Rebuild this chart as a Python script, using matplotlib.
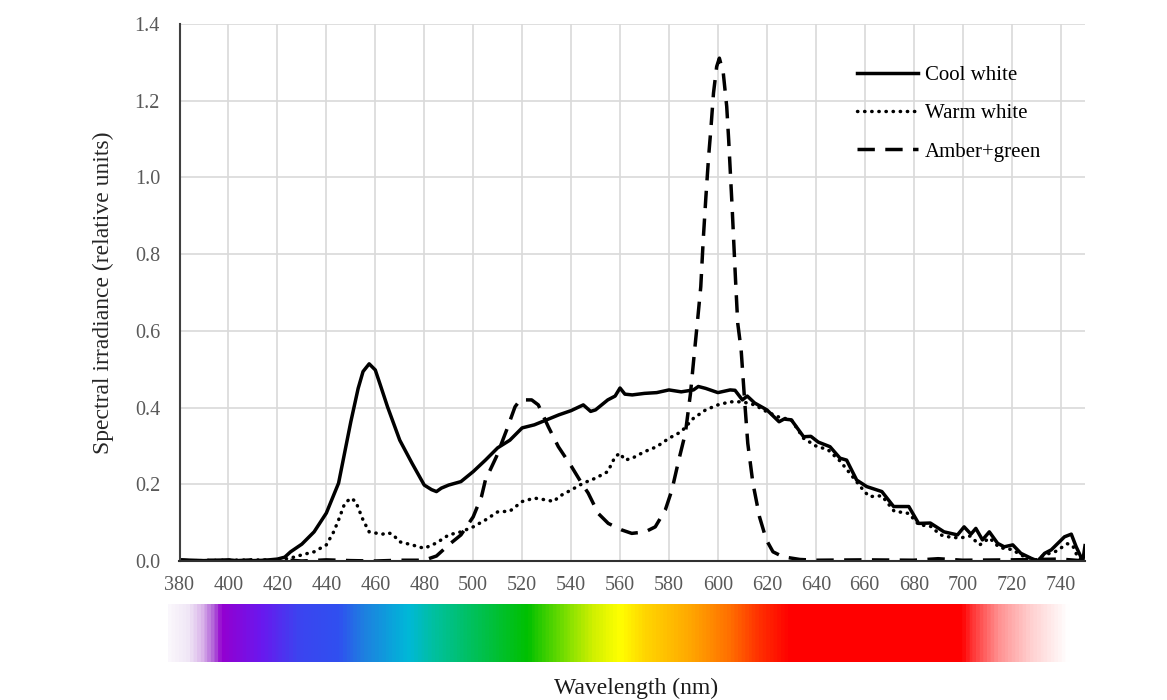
import matplotlib
matplotlib.use("Agg")
import matplotlib.pyplot as plt
import numpy as np
from matplotlib.colors import LinearSegmentedColormap

# ---------------- data ----------------
cool_nm = [380, 385, 390, 395, 400, 405, 410, 415, 420, 423, 425.4, 430, 435, 440, 445, 450, 453, 455,
           457.5, 460, 462, 465, 470, 475, 480, 483, 485, 487, 490, 495, 500, 505, 510, 515, 520, 525,
           530, 535, 540, 545, 548, 550, 555, 558, 560, 562, 565, 570, 575, 580, 585, 590, 592, 595,
           600, 605, 607, 610, 612, 615, 620, 625, 627, 630, 635, 638, 641, 645.8, 649.9, 652.6, 656.7,
           660.8, 667, 671.8, 678, 682, 686.8, 692.4, 697.9, 700.6, 703.4, 705.4, 708.1, 710.9, 714.3,
           717, 720.5, 723.8, 728, 730.7, 733.5, 736.2, 738.9, 741.6, 744.4, 746.4, 749.1, 750]
cool_val = [0.003, 0.002, 0.001, 0.002, 0.003, 0.0, 0.001, 0.002, 0.005, 0.01, 0.024, 0.044, 0.076, 0.125,
            0.203, 0.363, 0.45, 0.494, 0.514, 0.498, 0.46, 0.402, 0.315, 0.255, 0.198, 0.186, 0.181, 0.19,
            0.198, 0.207, 0.233, 0.263, 0.295, 0.315, 0.347, 0.355, 0.368, 0.381, 0.392, 0.407, 0.39,
            0.394, 0.42, 0.43, 0.451, 0.435, 0.433, 0.437, 0.439, 0.446, 0.441, 0.446, 0.455, 0.45,
            0.439, 0.446, 0.445, 0.42, 0.43, 0.412, 0.394, 0.363, 0.37, 0.368, 0.324, 0.325, 0.31, 0.298,
            0.268, 0.263, 0.211, 0.194, 0.181, 0.142, 0.142, 0.098, 0.099, 0.076, 0.068, 0.089, 0.07,
            0.085, 0.055, 0.076, 0.046, 0.037, 0.042, 0.02, 0.007, 0.0, 0.02, 0.029, 0.046, 0.063, 0.07,
            0.037, 0.0, 0.04]

warm_nm = [380, 400, 420, 425, 430, 435, 440, 443, 445, 447.5, 450, 452, 455, 457.5, 460, 463, 465, 467,
           470, 475, 480, 485, 490, 495, 500, 505, 510, 515, 520, 525, 530, 533, 535, 540, 545, 550, 555,
           558, 560, 562, 565, 570, 575, 580, 585, 590, 595, 600, 605, 610, 615, 620, 625, 630, 635, 640,
           645, 650, 655, 660, 662, 667, 672, 678, 682, 687, 691, 695, 699, 703, 707, 711, 715, 720, 725,
           730, 733.5, 738, 742.8, 745, 747, 750]
warm_val = [0.0, 0.002, 0.003, 0.007, 0.016, 0.024, 0.042, 0.076, 0.107, 0.15, 0.164, 0.155, 0.107, 0.076,
            0.073, 0.07, 0.074, 0.07, 0.05, 0.042, 0.033, 0.047, 0.068, 0.076, 0.089, 0.107, 0.128, 0.13,
            0.155, 0.164, 0.159, 0.155, 0.168, 0.185, 0.203, 0.216, 0.233, 0.272, 0.281, 0.263, 0.268,
            0.285, 0.298, 0.32, 0.337, 0.372, 0.394, 0.407, 0.415, 0.415, 0.407, 0.389, 0.375, 0.368,
            0.32, 0.3, 0.29, 0.26, 0.22, 0.18, 0.168, 0.17, 0.13, 0.124, 0.095, 0.09, 0.068, 0.062, 0.06,
            0.065, 0.042, 0.06, 0.035, 0.03, 0.012, 0.003, 0.016, 0.025, 0.045, 0.04, 0.01, 0.0]

amber_nm = [380, 385, 390, 400, 410, 420, 425, 430, 440, 450, 460, 470, 480, 485, 490, 495, 500, 503.4,
            505, 509.5, 513.7, 517.1, 519.2, 523.9, 526.6, 530.7, 534.8, 540.2, 544.3, 547, 551.1, 555.2,
            560.7, 564.8, 570.3, 574.4, 578.5, 581.2, 584, 586.7, 588.8, 590.1, 591.7, 593, 594, 595.1,
            596.2, 597.1, 598.2, 599.5, 600.6, 602.2, 603.6, 604.4, 605.1, 605.8, 606.5, 607.2, 608.1,
            609.5, 610.9, 612.2, 614.3, 617, 619.8, 622.5, 626.6, 633.5, 640, 660, 680, 690, 700, 720,
            740, 750]
amber_val = [0.003, 0.0, 0.002, 0.0, 0.003, 0.0, 0.002, 0.0, 0.003, 0.001, 0.0, 0.002, 0.002, 0.013, 0.042,
             0.068, 0.115, 0.168, 0.211, 0.272, 0.342, 0.402, 0.42, 0.42, 0.407, 0.35, 0.298, 0.246,
             0.203, 0.177, 0.124, 0.098, 0.081, 0.072, 0.076, 0.089, 0.133, 0.185, 0.263, 0.333, 0.437,
             0.524, 0.628, 0.715, 0.837, 0.95, 1.054, 1.124, 1.22, 1.289, 1.311, 1.272, 1.185, 1.098,
             1.011, 0.924, 0.828, 0.733, 0.62, 0.55, 0.42, 0.307, 0.203, 0.115, 0.055, 0.024, 0.011,
             0.004, 0.002, 0.003, 0.002, 0.006, 0.002, 0.003, 0.005, 0.0]

series_labels = ["Cool white", "Warm white", "Amber+green"]
x_ticks = list(range(380, 741, 20))
y_ticks = [0.0, 0.2, 0.4, 0.6, 0.8, 1.0, 1.2, 1.4]

# spectrum colour bar stops (nm, colour)
spec_nm = [375.3, 383, 388.4, 393.4, 396.6, 413, 428.3, 444.7, 455.4, 473.5, 484.1, 499.3, 522.7,
           539.2, 549.8, 560.9, 570.4, 589.7, 606.1, 618.4, 630.7, 701.8, 706, 717, 730.5, 745.7, 749.8]
spec_col = ["#faf7fc", "#f0e6f6", "#dab4ea", "#b060d8", "#9400d0", "#6a18ee", "#3c44f0", "#3050f0",
            "#1e80e0", "#00b8d8", "#00c0a0", "#00c060", "#00c000", "#80e000", "#d0f000", "#ffff00",
            "#ffd800", "#ffa800", "#ff7000", "#ff3000", "#ff0000", "#ff0000", "#ff3030", "#ff9090",
            "#ffd0d0", "#ffffff", "#ffffff"]

# ---------------- figure ----------------
plt.rcParams['font.family'] = ['Liberation Serif', 'DejaVu Serif']
W, H = 1167, 700
fig = plt.figure(figsize=(W / 100, H / 100), dpi=100)

ax_l, ax_r, ax_t, ax_b = 179.5, 1085, 24, 561
ax = fig.add_axes([ax_l / W, 1 - ax_b / H, (ax_r - ax_l) / W, (ax_b - ax_t) / H])

lw = 2.5
ax.plot(cool_nm, cool_val, color="black", lw=lw, linestyle="-", label=series_labels[0],
        solid_joinstyle="round")
ax.plot(warm_nm, warm_val, color="black", lw=lw, linestyle=(0, (0.1, 1.95)), label=series_labels[1],
        dash_capstyle="round")
ax.plot(amber_nm, amber_val, color="black", lw=lw, linestyle=(0, (5, 3)), label=series_labels[2])

ax.set_xlim(380, 750)
ax.set_ylim(0, 1.4)
ax.set_xticks(x_ticks)
ax.set_yticks(y_ticks)
ax.set_yticklabels([f"{v:.1f}" for v in y_ticks])
ax.grid(True, color="#d9d9d9", lw=1.2)
ax.set_axisbelow(True)
for s in ["top", "right"]:
    ax.spines[s].set_visible(False)
ax.spines["left"].set_color("#404040")
ax.spines["left"].set_linewidth(1.5)
ax.spines["bottom"].set_color("#303030")
ax.spines["bottom"].set_linewidth(1.5)
ax.tick_params(axis="both", length=0, labelsize=14.5, labelcolor="#595959")
ax.tick_params(axis="y", pad=14)
ax.tick_params(axis="x", pad=11)

ax.set_ylabel("Spectral irradiance (relative units)", fontsize=17, color="#262626", labelpad=15)

leg = ax.legend(loc="upper left", bbox_to_anchor=(0.728, 0.958), frameon=False, fontsize=15,
                handlelength=2.9, handletextpad=0.35, labelspacing=0.9)

# ---------------- spectrum bar ----------------
bl, br, bt, bb = 168, 1080, 604, 662
bax = fig.add_axes([bl / W, 1 - bb / H, (br - bl) / W, (bb - bt) / H])
pos = [(v - spec_nm[0]) / (spec_nm[-1] - spec_nm[0]) for v in spec_nm]
cmap = LinearSegmentedColormap.from_list("spec", list(zip(pos, spec_col)))
grad = np.linspace(0, 1, 1000)[None, :]
bax.imshow(grad, aspect="auto", cmap=cmap, extent=[spec_nm[0], spec_nm[-1], 0, 1])
bax.set_axis_off()

fig.text(636 / W, 1 - 688 / H, "Wavelength (nm)", ha="center", va="center", fontsize=17,
         color="#1a1a1a")

fig.savefig("out.png", dpi=100)
